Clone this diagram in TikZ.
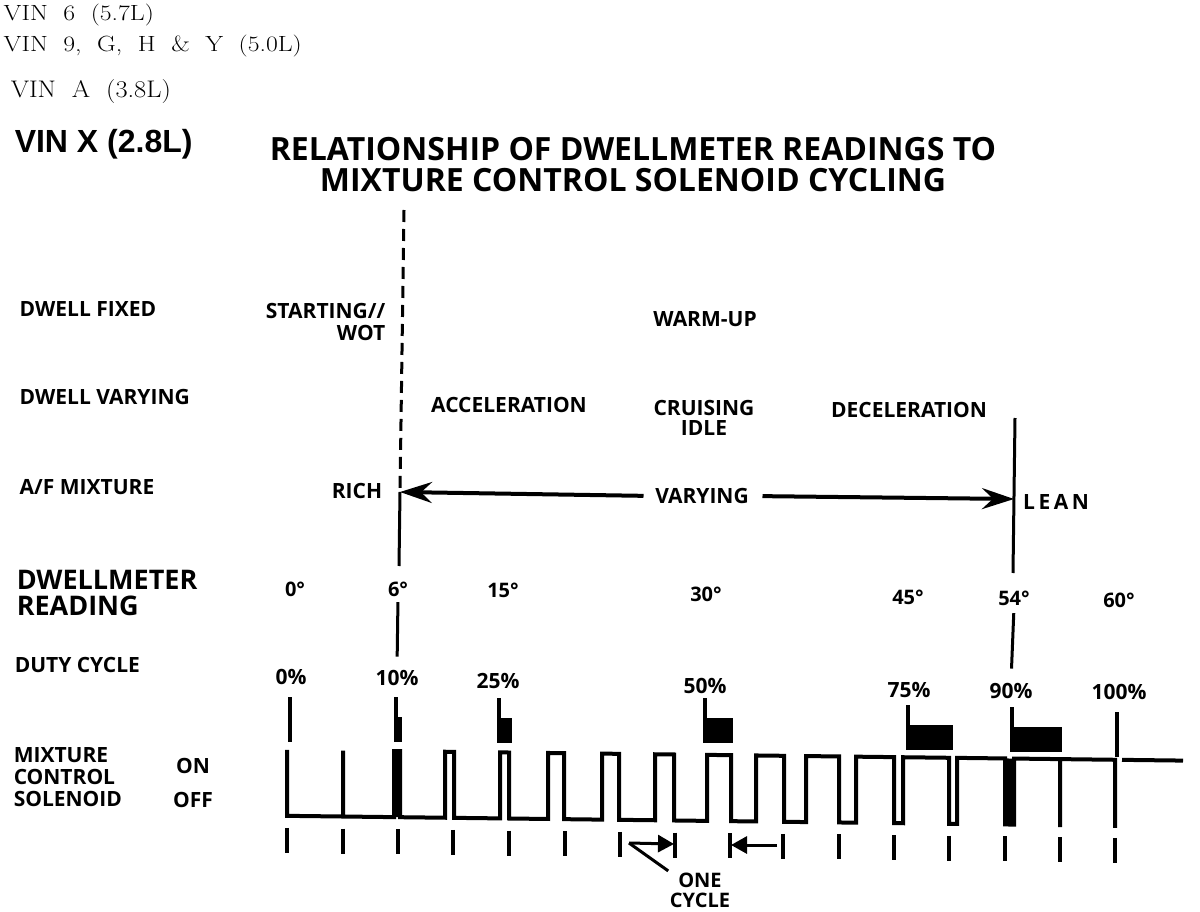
\documentclass[tikz,border=0pt]{standalone}
\usepackage{graphicx}
\usepackage{fontspec}
\setsansfont{Open Sans}
\newfontfamily\arialfont{Liberation Sans}
\usetikzlibrary{arrows.meta}

\tikzset{
  lbl/.style={font=\sffamily\bfseries\fontsize{21}{22}\selectfont, inner sep=0pt},
  big/.style={font=\sffamily\bfseries\fontsize{27}{26}\selectfont, inner sep=0pt},
  deg/.style={font=\sffamily\bfseries\fontsize{20}{20}\selectfont, inner sep=0pt},
  vin/.style={font=\fontsize{22}{22}\selectfont, inner sep=0pt, anchor=base west},
  bigtip/.style={-{Stealth[length=32pt, width=21pt, inset=11pt]}, line width=4pt},
  smalltip/.style={-{Triangle[length=16pt, width=17pt]}, line width=3pt},
  wave/.style={line width=4pt, line join=miter},
  tickmark/.style={line width=3.5pt}
}

\begin{document}
\begin{tikzpicture}[x=1pt, y=-1pt, line width=3.5pt]
  \fill[white] (0,0) rectangle (1200,912);
  \useasboundingbox (0,0) rectangle (1200,912);

  \node[vin] (vin6) at (2,21) {\scalebox{1.17}[1]{VIN~~6~~(5.7L)}};
  \node[vin] (vin9) at (2,52) {\scalebox{1.17}[1]{VIN~~9,~~G,~~H~~\&~~Y~~(5.0L)}};
  \node[vin, font=\fontsize{24}{24}\selectfont] (vinA) at (9,98) {\scalebox{1.1}[1]{VIN~~A~~(3.8L)}};
  \node[anchor=base west, inner sep=0pt, font=\arialfont\bfseries\fontsize{32}{32}\selectfont] (vinX) at (13,153) {VIN X (2.8L)};

  \node[font=\sffamily\bfseries\fontsize{32}{31}\selectfont, align=center, inner sep=0pt] (title) at (633,165)
    {RELATIONSHIP OF DWELLMETER READINGS TO\\MIXTURE CONTROL SOLENOID CYCLING};

  \node[lbl, anchor=west] (fixed) at (18,309) {DWELL FIXED};
  \node[lbl, anchor=west] (varying) at (18,397) {DWELL VARYING};
  \node[lbl, anchor=west] (mixture) at (18,487) {A/F MIXTURE};
  \node[big, anchor=west, align=left] (meter) at (15,593) {DWELLMETER\\READING};
  \node[lbl, anchor=west] (duty) at (13,665) {DUTY CYCLE};
  \node[lbl, anchor=west, align=left] (mcs) at (12,777) {MIXTURE\\CONTROL\\SOLENOID};
  \node[lbl] (on) at (193,766) {ON};
  \node[lbl] (off) at (193,800) {OFF};

  \node[lbl, anchor=east, align=right] (start) at (387,322) {STARTING//\\WOT};
  \node[lbl] (warm) at (705,319) {WARM-UP};
  \node[lbl] (accel) at (509,405) {ACCELERATION};
  \node[lbl, align=center, font=\sffamily\bfseries\fontsize{21}{20}\selectfont] (cruise) at (704,418) {CRUISING\\IDLE};
  \node[lbl] (decel) at (909,410) {DECELERATION};
  \node[lbl] (rich) at (357,491) {RICH};
  \node[lbl] (vary) at (702,496) {VARYING};
  \node[lbl] (lean) at (1056,502) {L\,E\,A\,N};

  \node[deg] (d0) at (295,589) {0°};
  \node[deg] (d6) at (398,589) {6°};
  \node[deg] (d15) at (503,590) {15°};
  \node[deg] (d30) at (706,594) {30°};
  \node[deg] (d45) at (908,597) {45°};
  \node[deg] (d54) at (1014,598) {54°};
  \node[deg] (d60) at (1119,600) {60°};

  \node[lbl] (p0) at (291,677) {0\%};
  \node[lbl] (p10) at (397,678) {10\%};
  \node[lbl] (p25) at (498,681) {25\%};
  \node[lbl] (p50) at (705,686) {50\%};
  \node[lbl] (p75) at (909,690) {75\%};
  \node[lbl] (p90) at (1011,691) {90\%};
  \node[lbl] (p100) at (1119,692) {100\%};

  \coordinate (dashtop) at (404,210);
  \coordinate (richpt) at (400,492);
  \coordinate (richbot) at (399,566);
  \coordinate (leantop) at (1015,418);
  \coordinate (leanpt) at (1014,499);
  \coordinate (leanbot) at (1013,573);

  \draw[line width=3pt, dash pattern=on 12pt off 7pt] (dashtop) -- (richpt);
  \draw[line width=3pt] (richpt) -- (richbot);
  \draw[line width=3pt] (leantop) -- (leanbot);
  \draw[bigtip, shorten <=10pt] (vary.west) -- (richpt);
  \draw[bigtip, shorten <=12pt] (vary.east) -- (leanpt);
  \draw[line width=3pt, shorten <=4pt, shorten >=12pt] (d6.south) -- (p10.north);
  \draw[line width=3pt, shorten <=6pt, shorten >=13pt] (d54.south) -- (p90.north);

  \foreach \x/\t/\w in {290/697/0, 396/697/6, 499/698/13, 705/698/28, 908/705/45, 1012/707/50, 1117/712/0} {
    \draw (\x,\t) -- (\x,\t+45);
    \ifnum\w>0 \fill (\x,\t+20) rectangle (\x+\w,\t+45); \fi
  }

  \begin{scope}[shift={(0,-3.6)}, yslant=-0.012]
    \draw[wave] (287,750) -- (287,816) -- (343,816) -- (343,750) -- (343,816) -- (394,816) -- (394,750)
      -- (400,750) -- (400,816) -- (445,816) -- (445,750) -- (454,750) -- (454,816) -- (500,816)
      -- (500,750) -- (509,750) -- (509,816) -- (548,816) -- (548,750) -- (564,750) -- (564,816)
      -- (602,816) -- (602,750) -- (619,750) -- (619,816) -- (655,816) -- (655,750) -- (674,750)
      -- (674,816) -- (707,816) -- (707,750) -- (731,750) -- (731,816) -- (756,816) -- (756,750)
      -- (784,750) -- (784,816) -- (806,816) -- (806,750) -- (839,750) -- (839,816) -- (856,816)
      -- (856,750) -- (894,750) -- (894,816) -- (903,816) -- (903,750) -- (949,750) -- (949,816)
      -- (957,816) -- (957,750) -- (1005,750) -- (1005,816) -- (1014,816) -- (1014,750) -- (1060,750)
      -- (1060,818) -- (1060,750) -- (1115,750) -- (1115,818);
    \draw[wave] (1122,750) -- (1183,750);
    \fill (394,750) rectangle (400,816);
    \fill (1005,750) rectangle (1014,816);
    \foreach \x in {287,343,398,453,509,565,620,675,730,783,839,894,949,1005,1060,1115}
      \draw[tickmark] (\x,828) -- (\x,853);
  \end{scope}

  \node[lbl, align=center, font=\sffamily\bfseries\fontsize{20}{20}\selectfont] (cycle) at (700,890) {ONE\\CYCLE};
  \coordinate (bend) at (629,843);
  \coordinate (tickA) at (674,844);
  \coordinate (backB) at (777,845);
  \coordinate (tickB) at (731,845);
  \draw[line width=3pt] (cycle.north west) -- (bend);
  \draw[smalltip] (bend) -- (tickA);
  \draw[smalltip] (backB) -- (tickB);
\end{tikzpicture}
\end{document}
